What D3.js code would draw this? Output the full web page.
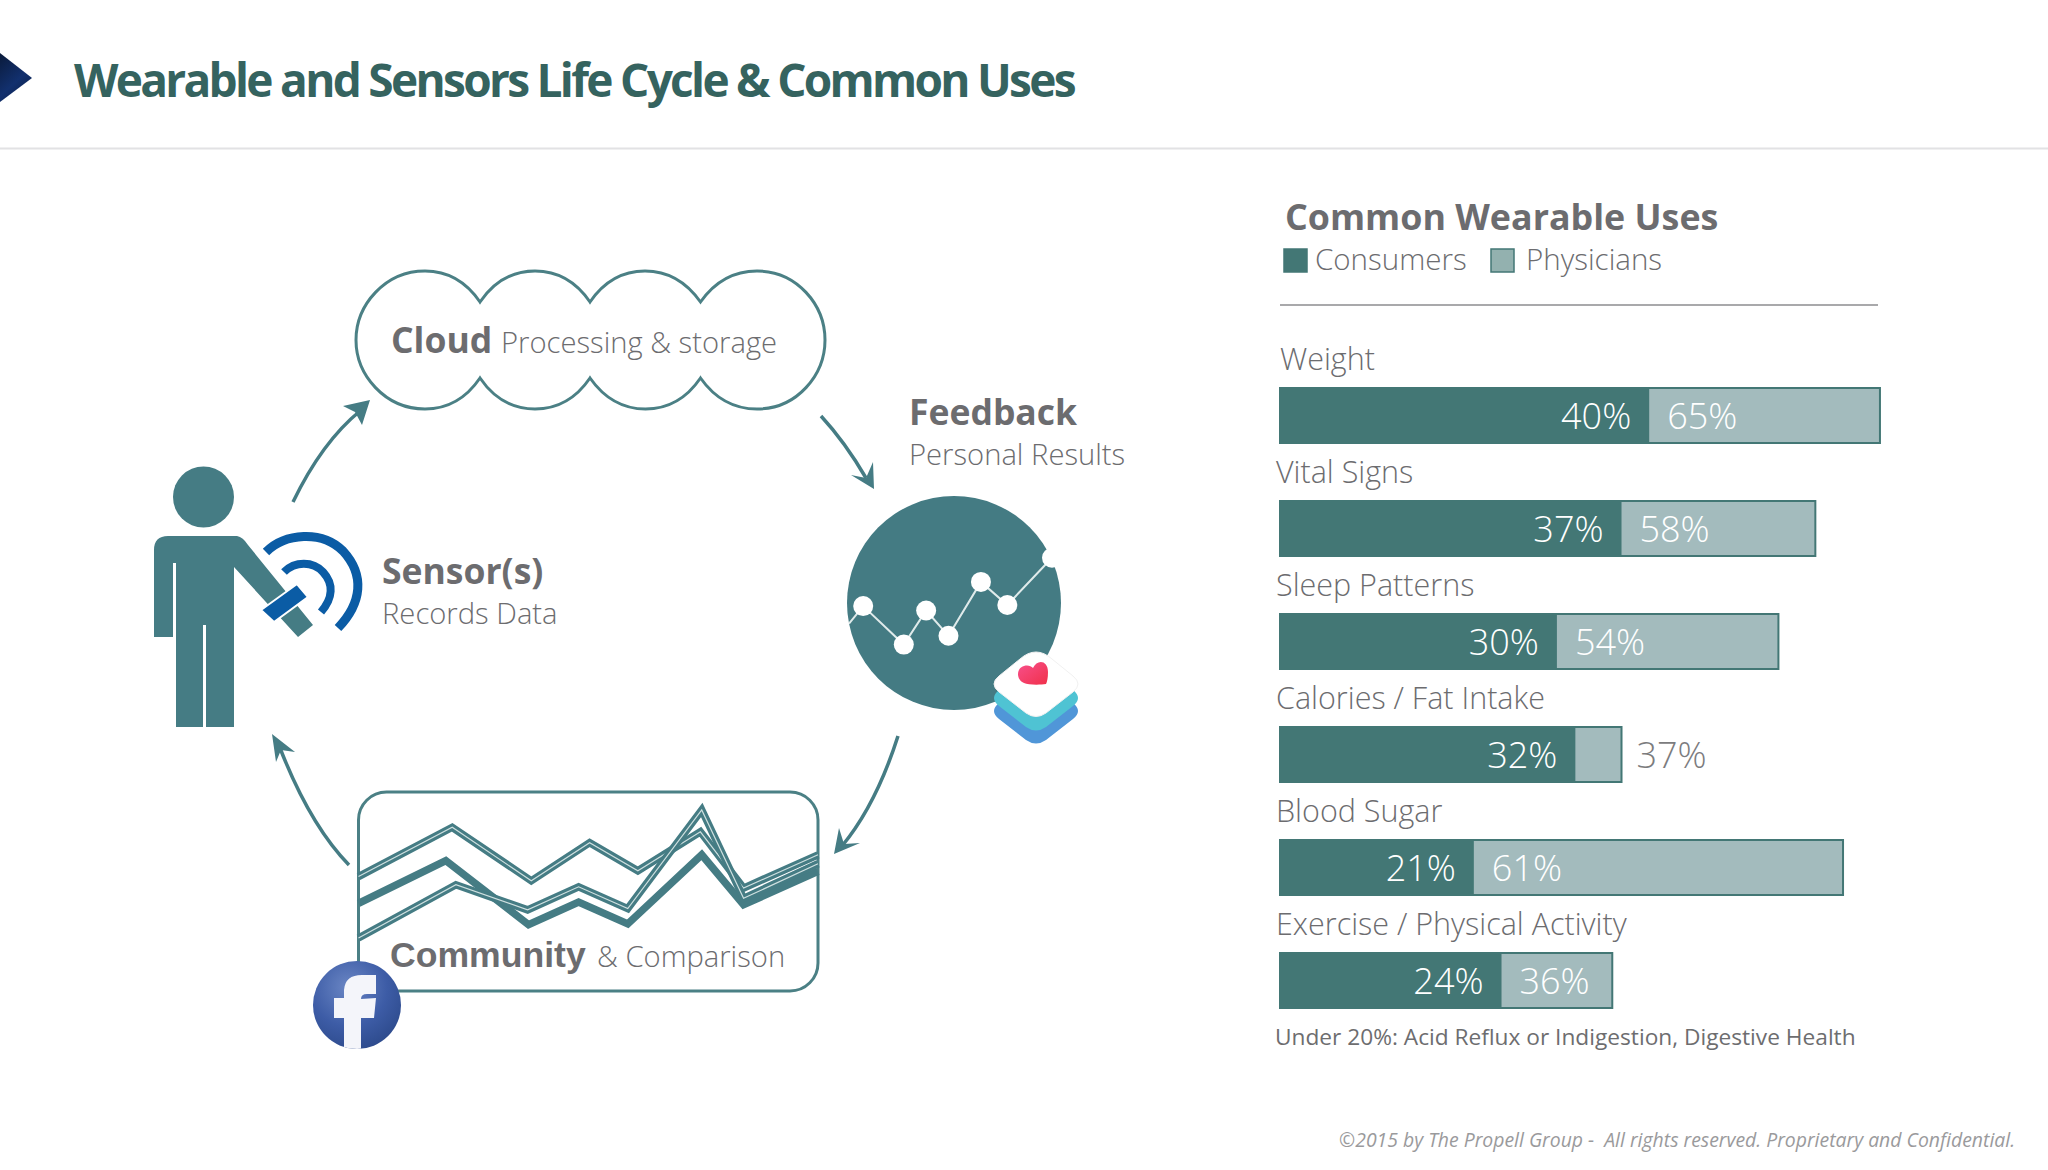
<!DOCTYPE html>
<html>
<head>
<meta charset="utf-8">
<script src="https://cdn.jsdelivr.net/npm/d3@7"></script>
<style>
  html, body { margin: 0; padding: 0; background: #fff; }
  svg { display: block; }
  text { font-family: "Open Sans", sans-serif; white-space: pre; }
</style>
</head>
<body>
<svg id="chart" width="2048" height="1170"></svg>
<script>
// bar chart data
const categories = ['Weight', 'Vital Signs', 'Sleep Patterns', 'Calories / Fat Intake', 'Blood Sugar', 'Exercise / Physical Activity'];
const consumers = [40, 37, 30, 32, 21, 24];
const physicians = [65, 58, 54, 37, 61, 36];
const seriesNames = ['Consumers', 'Physicians'];

// little trend line inside the feedback circle
const trendX = [0, 7, 27, 38, 49, 65, 78, 100];
const trendY = [33, 49, 14, 45, 22, 71, 50, 93];

// three community lines
const communityAX = [0, 20.4, 37.6, 50.3, 60.8, 74.4, 83.8, 100];
const communityAY = [48, 86.5, 44.7, 74.5, 52.5, 83, 39, 65];
const communityBX = [0, 19, 37, 47.9, 58.6, 74.7, 83.8, 100];
const communityBY = [27, 60.5, 10.4, 28, 11, 65, 26, 52];
const communityCX = [0, 21.2, 36.8, 47.9, 58.6, 74.7, 83.8, 100];
const communityCY = [0, 41.6, 22, 40, 23, 100, 31, 58];

const TEAL = '#457c84';
const BAR_DARK = '#437775';
const BAR_LIGHT = '#a3bbbd';
const GREY = '#6c6c6f';

const svg = d3.select('#chart');
const defs = svg.append('defs');

// header section
const navy = defs.append('linearGradient').attr('id', 'navy').attr('x1', 0).attr('y1', 0).attr('x2', 0.6).attr('y2', 1);
navy.append('stop').attr('offset', '0%').attr('stop-color', '#0a1a3a');
navy.append('stop').attr('offset', '65%').attr('stop-color', '#12306e');
navy.append('stop').attr('offset', '100%').attr('stop-color', '#0c2250');
svg.append('path').attr('d', 'M0,53 L32,78 L0,102 Z').attr('fill', 'url(#navy)');

svg.append('text')
  .attr('x', 74).attr('y', 97)
  .attr('fill', '#35635f')
  .style('font-size', '46px').style('font-weight', 700).style('letter-spacing', '-2.7px')
  .text('Wearable and Sensors Life Cycle & Common Uses');

svg.append('line')
  .attr('x1', 0).attr('x2', 2048).attr('y1', 148.5).attr('y2', 148.5)
  .attr('stroke', '#e2e2e4').attr('stroke-width', 2);

// cycle arrows
const arrows = [
  { d: 'M293,502 Q322,442 360,411', head: '370,400 343,406 355,412 362,425' },
  { d: 'M821,416 Q845,442 866,478', head: '874,489 851,475 866,478 873,462' },
  { d: 'M898,736 Q876,805 842,846', head: '834,854 839,828 844,844 860,843' },
  { d: 'M349,865 Q310,825 280,748', head: '272,734 295,752 281,750 276,762' },
];
svg.selectAll('path.arrow').data(arrows).enter().append('path')
  .attr('class', 'arrow')
  .attr('d', (d) => d.d)
  .attr('fill', 'none').attr('stroke', TEAL).attr('stroke-width', 3.5);
svg.selectAll('polygon.head').data(arrows).enter().append('polygon')
  .attr('class', 'head')
  .attr('points', (d) => d.head)
  .attr('fill', TEAL);

// cloud outline, the lobes are built from the cusps
const cusps = [480, 590, 700.5];
const lobeR = 55;
let cloud = `M${cusps[0]},302 C465,280 445,271 425,271 C385,271 356,305 356,340 C356,375 385,409 425,409 C445,409 465,400 480,378`;
cusps.slice(1).forEach((c) => {
  const m = c - lobeR;
  cloud += ` C${c - 95},400 ${m - 20},409 ${m},409 C${m + 20},409 ${c - 15},400 ${c},378`;
});
cloud += ' C716,400 736,409 757,409 C797,409 825,375 825,340 C825,305 797,271 757,271 C736,271 716,280 700.5,302';
[...cusps].reverse().slice(1).forEach((c) => {
  const m = c + lobeR;
  cloud += ` C${c + 95},280 ${m + 20},271 ${m},271 C${m - 20},271 ${c + 15},280 ${c},302`;
});
svg.append('path').attr('d', cloud + ' Z')
  .attr('fill', '#fff').attr('stroke', '#4b8085').attr('stroke-width', 3);

// person with sensor
svg.append('circle').attr('cx', 203.5).attr('cy', 497).attr('r', 30.5).attr('fill', TEAL);
svg.append('path')
  .attr('d', 'M168,536 L237,536 Q243,537 248,545 L313,625 L298,637 L234,567 L234,727 L206,727 L206,625 L203,625 L203,727 L176,727 L176,563 L173,563 L173,637 L154,637 L154,550 Q154,536 168,536 Z')
  .attr('fill', TEAL);
svg.append('polygon')
  .attr('points', '297,584 308,597 274,622 261,610')
  .attr('fill', '#0b5ca5').attr('stroke', '#fff').attr('stroke-width', 2);
svg.append('path')
  .attr('d', 'M266,552 C285,533 322,530 343,551 C365,575 362,603 338,628')
  .attr('fill', 'none').attr('stroke', '#0b5ca5').attr('stroke-width', 9);
svg.append('path')
  .attr('d', 'M284,572 C295,561 313,561 323,572 C334,584 333,598 321,612')
  .attr('fill', 'none').attr('stroke', '#0b5ca5').attr('stroke-width', 8);

// feedback circle with trend line
defs.append('clipPath').attr('id', 'ball').append('circle').attr('cx', 954).attr('cy', 603).attr('r', 107);
svg.append('circle').attr('cx', 954).attr('cy', 603).attr('r', 107).attr('fill', '#447b83');
const trendXScale = d3.scaleLinear().domain([0, 100]).range([849, 1052]);
const trendYScale = d3.scaleLinear().domain([0, 100]).range([660, 550]);
const trend = svg.append('g').attr('clip-path', 'url(#ball)');
trend.append('path')
  .attr('d', d3.line().x((d, i) => trendXScale(trendX[i])).y((d) => trendYScale(d))(trendY))
  .attr('fill', 'none').attr('stroke', '#dfeaea').attr('stroke-width', 2);
svg.selectAll('circle.dot').data(trendY.slice(1)).enter().append('circle')
  .attr('class', 'dot')
  .attr('cx', (d, i) => trendXScale(trendX[i + 1]))
  .attr('cy', (d) => trendYScale(d))
  .attr('r', 10)
  .attr('fill', '#fff');

// health app icon
const rounded = (cy) => `M1036,${cy - 32} Q1044,${cy - 32} 1052,${cy - 25} L1073,${cy - 8} Q1083,${cy} 1073,${cy + 8} L1046,${cy + 29} Q1036,${cy + 36} 1026,${cy + 29} L999,${cy + 8} Q989,${cy} 999,${cy - 8} L1020,${cy - 25} Q1028,${cy - 32} 1036,${cy - 32} Z`;
[[711, '#5096d8'], [698, '#4fc3d3'], [684, '#ffffff']].forEach(([cy, fill]) => {
  svg.append('path').attr('d', rounded(cy)).attr('fill', fill).attr('stroke', cy === 684 ? '#f1f1f1' : 'none');
});
const heart = defs.append('linearGradient').attr('id', 'heart').attr('x1', 0).attr('y1', 0).attr('x2', 1).attr('y2', 1);
heart.append('stop').attr('offset', '0%').attr('stop-color', '#f8508c');
heart.append('stop').attr('offset', '100%').attr('stop-color', '#f0304a');
svg.append('path')
  .attr('d', 'M1033,668 C1037,659 1048,660 1048,672 C1048,678 1047,682 1046,684 C1040,685 1028,685 1024,683 C1016,680 1016,668 1024,666 C1028,665 1031,666 1033,668 Z')
  .attr('fill', 'url(#heart)');

// community box
svg.append('rect')
  .attr('x', 358.5).attr('y', 792).attr('width', 459.5).attr('height', 199).attr('rx', 28)
  .attr('fill', '#fff').attr('stroke', '#4b8085').attr('stroke-width', 3);
const communityXScale = d3.scaleLinear().domain([0, 100]).range([358.5, 818]);
const communityYScale = d3.scaleLinear().domain([0, 100]).range([938, 810]);
const communityLine = (xs) => d3.line().x((d, i) => communityXScale(xs[i])).y((d) => communityYScale(d));
const communityLines = [
  { xs: communityBX, ys: communityBY, inner: false },
  { xs: communityAX, ys: communityAY, inner: true },
  { xs: communityCX, ys: communityCY, inner: true },
];
communityLines.forEach((l) => {
  svg.append('path').attr('d', communityLine(l.xs)(l.ys))
    .attr('fill', 'none').attr('stroke', TEAL).attr('stroke-width', 7.5);
  if (l.inner) {
    svg.append('path').attr('d', communityLine(l.xs)(l.ys))
      .attr('fill', 'none').attr('stroke', '#cfe0e0').attr('stroke-width', 1.2);
  }
});

// facebook badge
const fb = defs.append('radialGradient').attr('id', 'fb').attr('cx', 0.4).attr('cy', 0.3).attr('r', 0.8);
fb.append('stop').attr('offset', '0%').attr('stop-color', '#6a86c4');
fb.append('stop').attr('offset', '55%').attr('stop-color', '#3d5ca6');
fb.append('stop').attr('offset', '100%').attr('stop-color', '#2a4787');
defs.append('clipPath').attr('id', 'fbclip').append('circle').attr('cx', 357).attr('cy', 1005).attr('r', 44);
svg.append('circle').attr('cx', 357).attr('cy', 1005).attr('r', 44).attr('fill', 'url(#fb)');
svg.append('path')
  .attr('clip-path', 'url(#fbclip)')
  .attr('d', 'M344,1052 L344,1018 L334,1018 L334,998 L344,998 L344,990 Q345,975 362,975 L376,975 L376,994 L367,994 Q361,994 361,999 L376,998 L374,1018 L361,1018 L361,1052 Z')
  .attr('fill', '#f4f5fa');

// diagram text
const diagramText = [
  { t: 'Cloud', x: 391, y: 353, s: 35.5, w: 700 },
  { t: 'Processing & storage', x: 501, y: 352.5, s: 29.2, w: 300 },
  { t: 'Feedback', x: 909, y: 425, s: 35.5, w: 700 },
  { t: 'Personal Results', x: 909, y: 465, s: 29.2, w: 300 },
  { t: 'Sensor(s)', x: 382, y: 584, s: 35.5, w: 700 },
  { t: 'Records Data', x: 382, y: 624, s: 29.2, w: 300 },
  { t: 'Community', x: 390, y: 967, s: 35.6, w: 700, f: '"Liberation Sans"' },
  { t: '& Comparison', x: 597, y: 967, s: 29.2, w: 300 },
];
svg.selectAll('text.diagram').data(diagramText).enter().append('text')
  .attr('class', 'diagram')
  .attr('x', (d) => d.x).attr('y', (d) => d.y)
  .attr('fill', GREY)
  .style('font-family', (d) => d.f || null)
  .style('font-size', (d) => d.s + 'px')
  .style('font-weight', (d) => d.w)
  .text((d) => d.t);

// bar chart section
const x = d3.scaleLinear().domain([0, 100]).range([1280, 2203]);
const y = d3.scaleBand().domain(categories).range([387, 387 + 113 * 6 - 56]).paddingInner(56 / 113).paddingOuter(0);
const rows = categories.map((c, i) => ({ c, con: consumers[i], phy: physicians[i] }));

svg.append('text')
  .attr('x', 1285).attr('y', 230)
  .attr('fill', GREY)
  .style('font-size', '35.8px').style('font-weight', 700)
  .text('Common Wearable Uses');

const legendX = [1284, 1491];
const legendTextX = [1315, 1526];
const legendG = svg.selectAll('g.legend').data(seriesNames).enter().append('g').attr('class', 'legend');
legendG.append('rect')
  .attr('x', (d, i) => legendX[i]).attr('y', 249)
  .attr('width', 23).attr('height', 23)
  .attr('fill', (d, i) => (i === 0 ? BAR_DARK : '#93b1af'))
  .attr('stroke', BAR_DARK).attr('stroke-width', 1.5);
legendG.append('text')
  .attr('x', (d, i) => legendTextX[i]).attr('y', 270)
  .attr('fill', GREY)
  .style('font-size', '29.5px').style('font-weight', 300)
  .text((d) => d);

svg.append('line')
  .attr('x1', 1280).attr('x2', 1878).attr('y1', 305).attr('y2', 305)
  .attr('stroke', '#a9a9ab').attr('stroke-width', 2);

const row = svg.selectAll('g.row').data(rows).enter().append('g').attr('class', 'row');

row.append('text')
  .attr('x', (d, i) => (i === 0 ? 1280 : 1276))
  .attr('y', (d) => y(d.c) - 17)
  .attr('fill', GREY)
  .style('font-size', '30.5px').style('font-weight', 300)
  .text((d) => d.c);

row.append('rect')
  .attr('x', x(0)).attr('y', (d) => y(d.c) + 1)
  .attr('width', (d) => x(d.phy) - x(0)).attr('height', y.bandwidth() - 2)
  .attr('fill', BAR_LIGHT)
  .attr('stroke', BAR_DARK).attr('stroke-width', 2);

row.append('rect')
  .attr('x', x(0)).attr('y', (d) => y(d.c))
  .attr('width', (d) => x(d.con) - x(0)).attr('height', y.bandwidth())
  .attr('fill', BAR_DARK);

row.append('text')
  .attr('x', (d) => x(d.con) - 18)
  .attr('y', (d) => y(d.c) + 42)
  .attr('text-anchor', 'end')
  .attr('fill', '#fff')
  .style('font-size', '36px').style('font-weight', 300)
  .text((d) => d.con + '%');

// the physicians label moves outside when the bar is too short
row.append('text')
  .attr('x', (d) => (d.phy - d.con < 10 ? x(d.phy) + 15 : x(d.con) + 18))
  .attr('y', (d) => y(d.c) + 42)
  .attr('fill', (d) => (d.phy - d.con < 10 ? '#7c7c7e' : '#fff'))
  .style('font-size', '36px').style('font-weight', 300)
  .text((d) => d.phy + '%');

svg.append('text')
  .attr('x', 1275).attr('y', 1045)
  .attr('fill', '#6d6d6f')
  .style('font-size', '22.7px').style('font-weight', 400)
  .text('Under 20%: Acid Reflux or Indigestion, Digestive Health');

svg.append('text')
  .attr('x', 2015).attr('y', 1147)
  .attr('text-anchor', 'end')
  .attr('fill', '#9a9a9c')
  .style('font-size', '19.4px').style('font-style', 'italic').style('font-weight', 400)
  .text('©2015 by The Propell Group -  All rights reserved. Proprietary and Confidential.');
</script>
</body>
</html>
